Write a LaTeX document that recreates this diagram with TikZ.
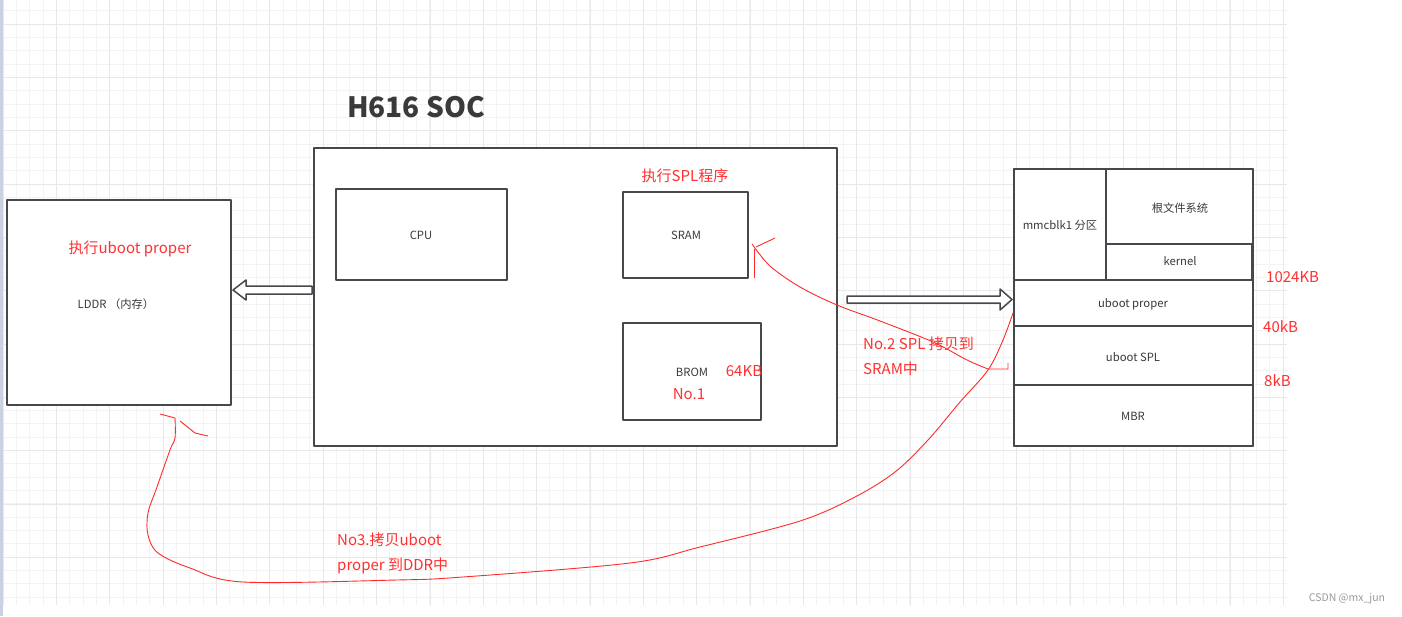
\documentclass[tikz,border=0pt]{standalone}
\usepackage{fontspec}
\setmainfont{Noto Sans CJK SC}
\definecolor{boxc}{HTML}{45484C}
\definecolor{txtc}{HTML}{3A3A3A}
\definecolor{redc}{HTML}{FF3030}
\definecolor{redl}{HTML}{FF2A2A}
\definecolor{gridmin}{HTML}{F3F3F3}
\definecolor{gridmaj}{HTML}{E8E8E8}
\definecolor{sidebar}{HTML}{C9D1E2}
\definecolor{wmc}{HTML}{9A9A9A}
\begin{document}
\begin{tikzpicture}[x=1pt,y=-1pt,line join=round,
  box/.style={draw=boxc,line width=1.5pt,fill=white,inner sep=0pt},
  cell/.style={draw=boxc,line width=1.3pt,fill=white,inner sep=0pt},
  lbl/.style={text=txtc,inner sep=0pt,font=\fontsize{11.3}{13}\selectfont},
  redlbl/.style={text=redc,inner sep=0pt,font=\fontsize{15}{17}\selectfont},
  redline/.style={draw=redl,line width=0.9pt},
  hollow/.style={draw=boxc,line width=1.5pt,fill=white}]
\useasboundingbox (0,0) rectangle (1402,616);
\fill[white] (0,0) rectangle (1402,616);
% grid
\foreach \k in {0,...,96} \draw[gridmin,line width=1pt] ({3.33+13.333*\k},0) -- ({3.33+13.333*\k},605);
\foreach \k in {0,...,44} \draw[gridmin,line width=1pt] (4,{10.67+13.333*\k}) -- (1287,{10.67+13.333*\k});
\foreach \k in {0,...,24} \draw[gridmaj,line width=1pt] ({3.33+53.333*\k},0) -- ({3.33+53.333*\k},605);
\foreach \k in {0,...,10} \draw[gridmaj,line width=1pt] (4,{24+53.333*\k}) -- (1287,{24+53.333*\k});
\fill[sidebar] (0,0) rectangle (3,616);

% title
\node[text=txtc,inner sep=0pt,font=\fontsize{28}{32}\selectfont\bfseries] (title) at (416,107) {H616 SOC};

% LDDR
\node[box,minimum width=224,minimum height=205] (ddr) at (119,302.5) {};
\node[redlbl] (ddrexec) at (130,249) {执行uboot proper};
\node[lbl] (ddrlbl) at (116,304) {LDDR （内存）};

% SOC
\node[box,minimum width=523,minimum height=298] (soc) at (575.5,297) {};
\node[box,minimum width=171,minimum height=91] (cpu) at (421.5,234.5) {};
\node[lbl] (cpulbl) at (421,235) {CPU};
\node[box,minimum width=125,minimum height=86] (sram) at (685.5,235) {};
\node[lbl] (sramlbl) at (686,235) {SRAM};
\node[redlbl] (splexec) at (685,176) {执行SPL程序};
\node[box,minimum width=138,minimum height=97] (brom) at (692,371.5) {};
\node[lbl] (bromlbl) at (692,372) {BROM};
\node[redlbl] (brom64) at (744,371) {64KB};
\node[redlbl] (no1) at (689,394) {No.1};

% storage stack
\node[cell,minimum width=92,minimum height=111] (mmc) at (1060,224.5) {};
\node[lbl] (mmclbl) at (1060,225) {mmcblk1 分区};
\node[cell,minimum width=147,minimum height=75] (rootfs) at (1179.5,206.5) {};
\node[lbl] (rootfslbl) at (1180,208) {根文件系统};
\node[cell,minimum width=146,minimum height=36] (kernel) at (1179,262) {};
\node[lbl] (kernellbl) at (1180,261) {kernel};
\node[cell,minimum width=239,minimum height=46] (uproper) at (1133.5,303) {};
\node[lbl] (uproperlbl) at (1133,304) {uboot proper};
\node[cell,minimum width=239,minimum height=59] (uspl) at (1133.5,355.5) {};
\node[lbl] (usplbl) at (1133,357) {uboot SPL};
\node[cell,minimum width=239,minimum height=61] (mbr) at (1133.5,415.5) {};
\node[lbl] (mbrlbl) at (1133,416) {MBR};
\node[draw=boxc,line width=2.2pt,minimum width=239,minimum height=277,inner sep=0pt] (stack) at (1133.5,307.5) {};
\node[redlbl,anchor=west] (k1024) at (1266,277) {1024KB};
\node[redlbl,anchor=west] (k40) at (1263,327) {40kB};
\node[redlbl,anchor=west] (k8) at (1264,381) {8kB};

% hollow arrows
\draw[hollow] (312,286) -- (246,286) -- (246,280) -- (233,290) -- (246,300) -- (246,294) -- (312,294) -- cycle;
\draw[hollow] (847,296) -- (1000,296) -- (1000,289) -- (1012,299.5) -- (1000,310) -- (1000,303) -- (847,303) -- cycle;

% red step labels
\node[redlbl,anchor=west] (no2a) at (863,344) {No.2 SPL 拷贝到};
\node[redlbl,anchor=west] (no2b) at (863,369) {SRAM中};
\node[redlbl,anchor=west] (no3a) at (337,540) {No3.拷贝uboot};
\node[redlbl,anchor=west] (no3b) at (337,566) {proper 到DDR中};

% freehand red curves
\coordinate (c1s) at (752,244);
\coordinate (c1e) at (988,369);
\draw[redline] plot[smooth,tension=0.55] coordinates {(c1s) (770,266) (800,287) (837,305) (880,321) (933,342) (967,360) (c1e)} -- (1008,369) -- (1008,363);
\draw[redline] (754,249) -- (754,278);
\draw[redline] (756,247) -- (775,238);

\coordinate (c2s) at (1013,313);
\coordinate (c2e) at (175,418);
\draw[redline] plot[smooth,tension=0.55] coordinates {(c2s) (1003,340) (988,370) (960,402) (928,440) (895,472) (855,497) (800,521) (700,547) (630,563) (463,577) (397,580) (243,582) (190,568) (158,553) (148,535) (148,513) (157,487) (170,450) (175,438) (c2e)} -- (160,414);
\draw[redline] (180,421) -- (195,433) -- (208,436);

% watermark
\node[text=wmc,inner sep=0pt,font=\fontsize{10.5}{12}\selectfont] (wm) at (1347,599) {CSDN @mx\_jun};
\end{tikzpicture}
\end{document}
